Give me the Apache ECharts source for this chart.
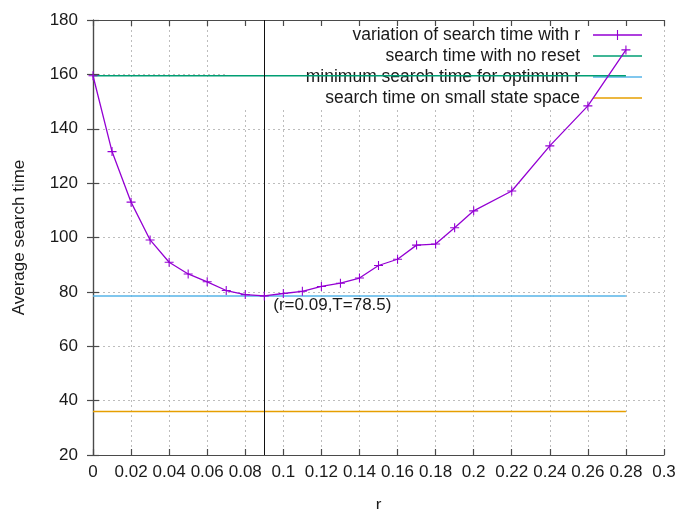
<!DOCTYPE html>
<html>
<head>
<meta charset="utf-8">
<script src="https://cdn.jsdelivr.net/npm/echarts@6/dist/echarts.min.js"></script>
<style>
  html, body { margin: 0; padding: 0; background: #fff; }
  #chart { width: 675px; height: 509px; }
</style>
</head>
<body>
<div id="chart"></div>
<script>
// Reset rate r and the measured average search time at each rate
const rValues = [0, 0.01, 0.02, 0.03, 0.04, 0.05, 0.06, 0.07, 0.08, 0.09, 0.10, 0.11, 0.12, 0.13, 0.14, 0.15, 0.16, 0.17, 0.18, 0.19, 0.20, 0.22, 0.24, 0.26, 0.28];
const searchTimes = [159.5, 131.6, 113.0, 99.1, 90.9, 86.6, 83.7, 80.5, 79.0, 78.5, 79.4, 80.2, 82.0, 83.2, 85.1, 89.7, 92.0, 97.2, 97.6, 103.6, 109.8, 117.1, 133.7, 148.4, 169.0];

// Reference levels
const noResetTime = 159.5;
const optimumR = 0.09;
const optimumTime = 78.5;
const smallSpaceTime = 36.0;
const refSpan = [0, 0.28];

const seriesNames = [
  'variation of search time with r',
  'search time with no reset',
  'minimum search time for optimum r',
  'search time on small state space'
];

const FONT = '"Liberation Sans", Arial, sans-serif';
const TEXT = '#1a1a1a';
const plusSymbol = 'path://M0,4.4H10V5.6H0ZM4.4,0H5.6V10H4.4Z';
// key samples: a plain stroke, and a stroke with a centred cross
const keyLine = 'path://M0,0H49V1.6H0Z';
const keyLinePlus = 'path://M0,4.35H49V5.65H0ZM23.95,0H25.05V10H23.95Z';

function flat(level) {
  return refSpan.map(r => [r, level]);
}

const chart = echarts.init(document.getElementById('chart'), null, { renderer: 'canvas' });

const gridLine = { show: true, lineStyle: { color: '#bdbdbd', width: 1, type: [2, 3] } };
const frame = { show: true, lineStyle: { color: '#4a4a4a', width: 1.2 } };
const tickIn = { show: true, inside: true, length: 6, lineStyle: { color: '#4a4a4a', width: 1.2 } };

chart.setOption({
  animation: false,
  backgroundColor: '#fff',
  grid: { left: 93, right: 11, top: 20, bottom: 54, containLabel: false, outerBoundsMode: 'none' },
  xAxis: [
    {
      type: 'value', min: 0, max: 0.3, interval: 0.02,
      name: 'r', nameLocation: 'middle', nameGap: 42,
      nameTextStyle: { fontFamily: FONT, fontSize: 17, color: TEXT },
      axisLine: frame, axisTick: tickIn,
      axisLabel: {
        fontFamily: FONT, fontSize: 17, color: TEXT, margin: 9,
        formatter: v => String(+v.toFixed(2))
      },
      splitLine: gridLine
    },
    {
      type: 'value', position: 'top', min: 0, max: 0.3, interval: 0.02, z: 3,
      axisLine: frame, axisTick: tickIn, axisLabel: { show: false }, splitLine: { show: false }
    }
  ],
  yAxis: [
    {
      type: 'value', min: 20, max: 180, interval: 20,
      name: 'Average search time', nameLocation: 'middle', nameGap: 65, nameRotate: 90,
      nameTextStyle: { fontFamily: FONT, fontSize: 17, color: TEXT },
      axisLine: frame, axisTick: tickIn,
      axisLabel: { fontFamily: FONT, fontSize: 17, color: TEXT, margin: 15 },
      splitLine: gridLine
    },
    {
      type: 'value', position: 'right', min: 20, max: 180, interval: 20, z: 3,
      axisLine: frame, axisTick: tickIn, axisLabel: { show: false }, splitLine: { show: false }
    }
  ],
  legend: {
    orient: 'vertical', align: 'right', right: 33, top: 26, padding: 0,
    itemWidth: 49, itemHeight: 11, itemGap: 3,
    data: [
      { name: seriesNames[0], icon: keyLinePlus },
      { name: seriesNames[1], icon: keyLine },
      { name: seriesNames[2], icon: keyLine },
      { name: seriesNames[3], icon: keyLine }
    ],
    textStyle: { fontFamily: FONT, fontSize: 17.5, color: TEXT, padding: [0, 8, 0, 0] },
    selectedMode: false
  },
  // key background: hides the grid behind the legend block
  graphic: [{
    type: 'rect', z: 1, silent: true,
    shape: { x: 225, y: 21, width: 438, height: 89 },
    style: { fill: '#fff' }
  }],
  series: [
    {
      name: seriesNames[0], type: 'line', z: 5,
      data: rValues.map((r, i) => [r, searchTimes[i]]),
      symbol: plusSymbol, symbolSize: 9, showSymbol: true,
      lineStyle: { color: '#9400d3', width: 1.3 },
      itemStyle: { color: '#9400d3' }
    },
    {
      name: seriesNames[1], type: 'line', z: 4, symbol: 'none',
      data: flat(noResetTime),
      lineStyle: { color: '#009e73', width: 1.5 }, itemStyle: { color: '#009e73' }
    },
    {
      name: seriesNames[2], type: 'line', z: 4, symbol: 'none',
      data: flat(optimumTime),
      lineStyle: { color: '#56b4e9', width: 1.5 }, itemStyle: { color: '#56b4e9' }
    },
    {
      name: seriesNames[3], type: 'line', z: 4, symbol: 'none',
      data: flat(smallSpaceTime),
      lineStyle: { color: '#e69f00', width: 1.5 }, itemStyle: { color: '#e69f00' }
    },
    {
      // optimum marker: vertical rule and its label
      type: 'scatter', z: 6, symbolSize: 0, silent: true,
      data: [[optimumR, optimumTime]],
      itemStyle: { opacity: 1 },
      label: {
        show: true, position: 'right', distance: 9, offset: [0, 9],
        fontFamily: FONT, fontSize: 17, color: TEXT,
        formatter: () => '(r=' + optimumR + ',T=' + optimumTime + ')'
      },
      markLine: {
        silent: true, symbol: 'none', animation: false,
        label: { show: false },
        lineStyle: { color: '#111', width: 1, type: 'solid', opacity: 1 },
        data: [{ xAxis: optimumR }]
      }
    }
  ]
});
</script>
</body>
</html>
